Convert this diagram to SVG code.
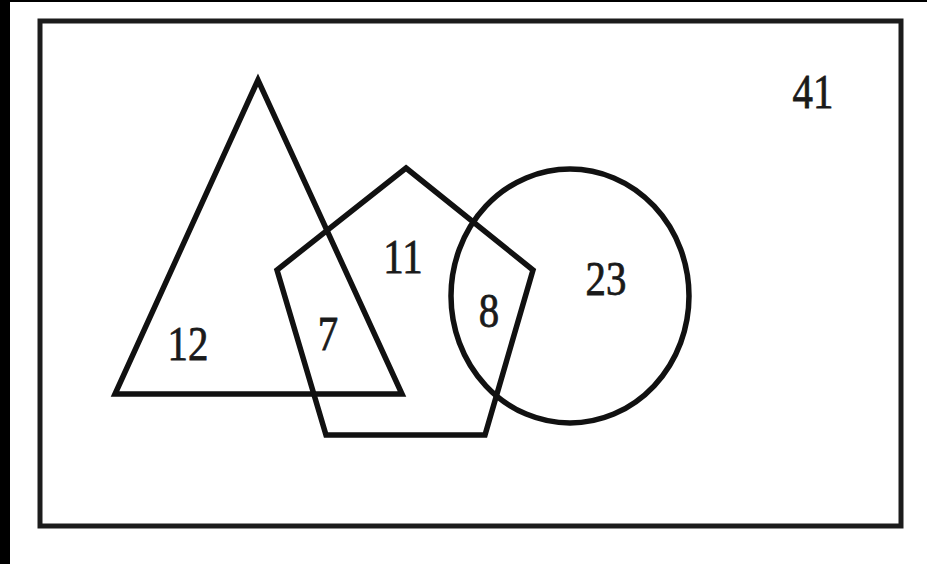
<svg xmlns="http://www.w3.org/2000/svg" width="927" height="564" viewBox="0 0 927 564">
<style>
.sh{fill:none;stroke:#111;stroke-width:5.5;stroke-linejoin:miter}
.fr{fill:none;stroke:#1c1c1c;stroke-width:5}
.lb{font-family:"Liberation Serif","Times New Roman",serif;font-size:48px;fill:#1a1a1a;stroke:#1a1a1a;stroke-width:0.8;text-anchor:middle}
</style>
<rect x="0" y="0" width="927" height="564" fill="#fff"/>
<rect x="0" y="0" width="10" height="564" fill="#000"/>
<rect x="0" y="0" width="927" height="2" fill="#000"/>
<g id="universe">
<rect class="fr" x="40" y="21" width="861" height="505"/>
<text class="lb" transform="translate(813,108) scale(0.85,1)">41</text>
</g>
<g id="triangle">
<polygon class="sh" points="258,80 115,394 402,394"/>
<text class="lb" transform="translate(188,360) scale(0.85,1)">12</text>
</g>
<g id="pentagon">
<polygon class="sh" points="406,168 533,270 485,435 326,435 277,270"/>
<text class="lb" transform="translate(403,273) scale(0.85,1)">11</text>
</g>
<g id="circle">
<ellipse class="sh" cx="570" cy="296" rx="119" ry="127"/>
<text class="lb" transform="translate(606,295) scale(0.85,1)">23</text>
</g>
<g id="overlaps">
<text class="lb" transform="translate(328,350) scale(0.85,1)">7</text>
<text class="lb" transform="translate(489,327) scale(0.85,1)">8</text>
</g>
</svg>
